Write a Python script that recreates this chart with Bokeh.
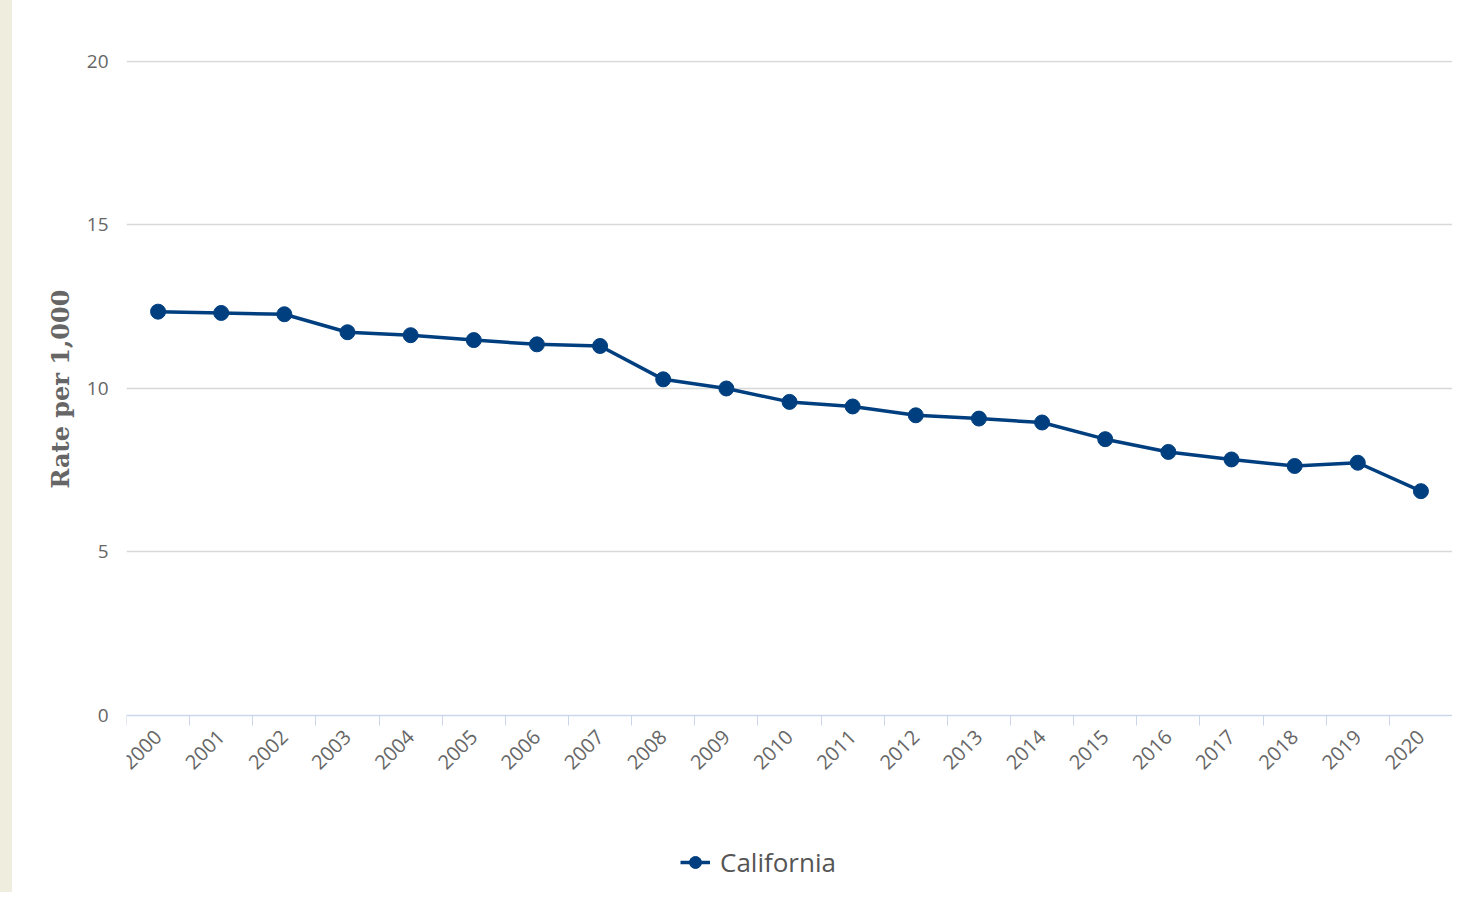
from bokeh.plotting import figure
from bokeh.models import FixedTicker, Legend, LegendItem, Range1d, Div, Title
from bokeh.layouts import row
from bokeh.embed import file_html
from bokeh.resources import INLINE

years = list(range(2000, 2021))
rates = [12.35, 12.31, 12.27, 11.72, 11.63, 11.48, 11.35, 11.30, 10.28, 10.00,
         9.59, 9.45, 9.18, 9.08, 8.96, 8.45, 8.06, 7.83, 7.63, 7.73, 6.86]
y_ticks = [0, 5, 10, 15, 20]
series_name = "California"
y_title = "Rate per 1,000"

NAVY = "#003f7f"
TICK_FONT = "Open Sans"
STRIP_W = 12
W, H = 1452, 892
TOP, ZERO_Y = 60, 715           # pixel rows of the value 20 and the value 0
Y_MAX = 20.03
Y_MIN = -Y_MAX * (H - ZERO_Y) / (ZERO_Y - TOP)   # lets the frame run to the bottom

strip = Div(width=STRIP_W, height=H, margin=0,
            styles={"background-color": "#efedde"})

p = figure(width=W - STRIP_W, height=H, output_backend="svg", toolbar_location=None,
           x_range=Range1d(years[0] - 0.5, years[-1] + 0.5),
           y_range=Range1d(Y_MIN, Y_MAX),
           min_border_left=126 - STRIP_W, min_border_top=TOP, min_border_right=0,
           min_border_bottom=0, margin=0)
p.outline_line_color = None
p.background_fill_color = "white"
p.border_fill_color = "white"

# x axis, pinned at value 0
boundaries = [y - 0.5 for y in years] + [years[-1] + 0.5]
xa = p.xaxis[0]
xa.fixed_location = 0
xa.ticker = FixedTicker(ticks=years, minor_ticks=boundaries)
xa.major_tick_line_color = None
xa.minor_tick_in = 0
xa.minor_tick_out = 10
xa.minor_tick_line_color = "#ccd6eb"
xa.minor_tick_line_width = 1
xa.axis_line_color = "#ccd6eb"
xa.axis_line_width = 1.5
xa.major_label_orientation = 0.785398
xa.major_label_text_font = TICK_FONT
xa.major_label_text_font_size = "20px"
xa.major_label_text_color = "#666666"
xa.major_label_standoff = 8

# y axis
ya = p.yaxis[0]
ya.ticker = FixedTicker(ticks=y_ticks)
ya.axis_line_color = None
ya.major_tick_line_color = None
ya.minor_tick_line_color = None
ya.major_label_text_font = TICK_FONT
ya.major_label_text_font_size = "19px"
ya.major_label_text_color = "#666666"
ya.major_label_standoff = 12

ytitle = Title(text=y_title, align="left", offset=404, standoff=18,
               text_font="DejaVu Serif", text_font_style="bold",
               text_font_size="24px", text_color="#666666")
p.add_layout(ytitle, "left")

p.xgrid.grid_line_color = None
p.ygrid.ticker = FixedTicker(ticks=y_ticks[1:])
p.ygrid.grid_line_color = "#d8d8d8"
p.ygrid.grid_line_width = 1.5

ln = p.line(years, rates, line_color=NAVY, line_width=3.5)
pts = p.scatter(years, rates, size=15, fill_color=NAVY, line_color=NAVY)

legend = Legend(items=[LegendItem(label=series_name, renderers=[ln, pts])],
                location=(554, 12), orientation="horizontal",
                padding=0, margin=0, spacing=0,
                glyph_width=30, glyph_height=32, label_standoff=10,
                label_text_font=TICK_FONT, label_text_font_size="26px",
                label_text_color="#555555",
                border_line_color=None, background_fill_alpha=0)
p.add_layout(legend, "center")

layout = row(strip, p, spacing=0)
open("out.html", "w").write(file_html(layout, INLINE))
